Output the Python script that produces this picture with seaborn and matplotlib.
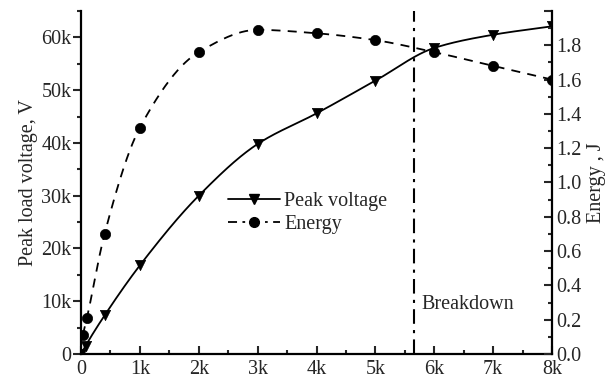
import numpy as np
import matplotlib
matplotlib.use("Agg")
import matplotlib.pyplot as plt
from matplotlib.lines import Line2D
from matplotlib.ticker import FixedLocator, MultipleLocator, FuncFormatter
import seaborn as sns

# Peak load voltage (V) versus x
volt_x = [0, 80, 400, 1000, 2000, 3000, 4000, 5000, 6000, 7000, 8000]
volt_v = [0, 1600, 7300, 16800, 30000, 39800, 45600, 51800, 58000, 60500, 62100]

# Energy (J) versus x
energy_x = [30, 100, 400, 1000, 2000, 3000, 4000, 5000, 6000, 7000, 8000]
energy_j = [0.11, 0.21, 0.70, 1.32, 1.76, 1.89, 1.87, 1.83, 1.76, 1.68, 1.60]

breakdown_x = 5650
x_ticks = [0, 1000, 2000, 3000, 4000, 5000, 6000, 7000, 8000]
left_ticks = [0, 10000, 20000, 30000, 40000, 50000, 60000]
right_ticks = [0.0, 0.2, 0.4, 0.6, 0.8, 1.0, 1.2, 1.4, 1.6, 1.8, 2.0]


def pchip(x, y, n=500):
    """Shape-preserving piecewise cubic (Fritsch-Carlson) connecting curve."""
    x = np.asarray(x, float)
    y = np.asarray(y, float)
    h = np.diff(x)
    d = np.diff(y) / h
    m = np.zeros_like(y)
    for i in range(1, len(x) - 1):
        if d[i - 1] * d[i] > 0:
            w1 = 2 * h[i] + h[i - 1]
            w2 = h[i] + 2 * h[i - 1]
            m[i] = (w1 + w2) / (w1 / d[i - 1] + w2 / d[i])
    m[0] = d[0]
    m[-1] = d[-1]
    xs = np.linspace(x[0], x[-1], n)
    idx = np.clip(np.searchsorted(x, xs) - 1, 0, len(x) - 2)
    t = (xs - x[idx]) / h[idx]
    h00 = 2 * t ** 3 - 3 * t ** 2 + 1
    h10 = t ** 3 - 2 * t ** 2 + t
    h01 = -2 * t ** 3 + 3 * t ** 2
    h11 = t ** 3 - t ** 2
    ys = h00 * y[idx] + h10 * h[idx] * m[idx] + h01 * y[idx + 1] + h11 * h[idx] * m[idx + 1]
    return xs, ys


sns.set_theme(style="ticks")
plt.rcParams["font.family"] = ["Liberation Serif", "DejaVu Serif"]
FS = 14.5

fig = plt.figure(figsize=(6.1, 3.87), dpi=100)
ax = fig.add_axes([0.1328, 0.0853, 0.905 - 0.1328, 0.9716 - 0.0853])
ax2 = ax.twinx()

vx, vy = pchip(volt_x, volt_v)
ex, ey = pchip(energy_x, energy_j)

sns.lineplot(x=vx, y=vy, ax=ax, color="black", lw=1.3, linestyle="-", legend=False)
sns.scatterplot(x=volt_x, y=volt_v, ax=ax, marker="v", color="black", s=55,
                edgecolor="black", linewidth=0.5, legend=False, zorder=5)

sns.lineplot(x=ex, y=ey, ax=ax2, color="black", lw=1.3, legend=False)
ax2.lines[-1].set_dashes([5, 4])
sns.scatterplot(x=energy_x, y=energy_j, ax=ax2, marker="o", color="black", s=55,
                edgecolor="black", linewidth=0.5, legend=False, zorder=5)

ax.axvline(breakdown_x, color="black", lw=1.5, dashes=[7, 3, 1.5, 3])
ax.text(breakdown_x + 140, 9300, "Breakdown", fontsize=FS, va="center", ha="left")

ax.set_xlim(0, 8000)
ax.set_ylim(0, 65000)
ax2.set_ylim(0, 2.0)

kfmt = FuncFormatter(lambda v, p: "0" if v == 0 else f"{v/1000:.0f}k")
ax.xaxis.set_major_locator(FixedLocator(x_ticks))
ax.xaxis.set_minor_locator(MultipleLocator(500))
ax.xaxis.set_major_formatter(kfmt)
ax.yaxis.set_major_locator(FixedLocator(left_ticks))
ax.yaxis.set_minor_locator(MultipleLocator(5000))
ax.yaxis.set_major_formatter(kfmt)
ax2.yaxis.set_major_locator(FixedLocator(right_ticks))
ax2.yaxis.set_minor_locator(MultipleLocator(0.1))
ax2.yaxis.set_major_formatter(FuncFormatter(lambda v, p: "" if v > 1.95 else f"{v:.1f}"))

ax.tick_params(axis="x", which="major", direction="in", length=6, width=1.5, labelsize=FS, pad=4, top=False)
ax.tick_params(axis="x", which="minor", direction="in", length=3, width=1.5, top=False)
ax.tick_params(axis="y", which="major", direction="out", length=6, width=1.5, labelsize=FS, pad=1)
ax.tick_params(axis="y", which="minor", direction="out", length=3, width=1.5)
ax2.tick_params(axis="y", which="major", direction="in", length=6, width=1.5, labelsize=FS, pad=3)
ax2.tick_params(axis="y", which="minor", direction="in", length=3, width=1.5)

for a in (ax, ax2):
    a.spines["top"].set_visible(False)
    for s in ("left", "right", "bottom"):
        a.spines[s].set_linewidth(1.6)
        a.spines[s].set_color("black")
ax.spines["right"].set_visible(False)
ax2.spines["left"].set_visible(False)
ax2.spines["bottom"].set_visible(False)

ax.set_xlabel("")
ax.set_ylabel("Peak load voltage, V", fontsize=FS, labelpad=2)
ax2.set_ylabel("Energy , J", fontsize=FS, labelpad=4)

handles = [
    Line2D([], [], color="black", lw=1.3, ls="-", marker="v", markersize=7),
    Line2D([], [], color="black", lw=1.3, dashes=[5, 3, 1.5, 3], marker="o", markersize=7),
]
ax.legend(handles, ["Peak voltage", "Energy"], loc="upper left", bbox_to_anchor=(0.295, 0.497),
          frameon=False, fontsize=FS, handlelength=2.6, handletextpad=0.2, labelspacing=0.2,
          borderaxespad=0, numpoints=1)

fig.savefig("out.png", dpi=100)
